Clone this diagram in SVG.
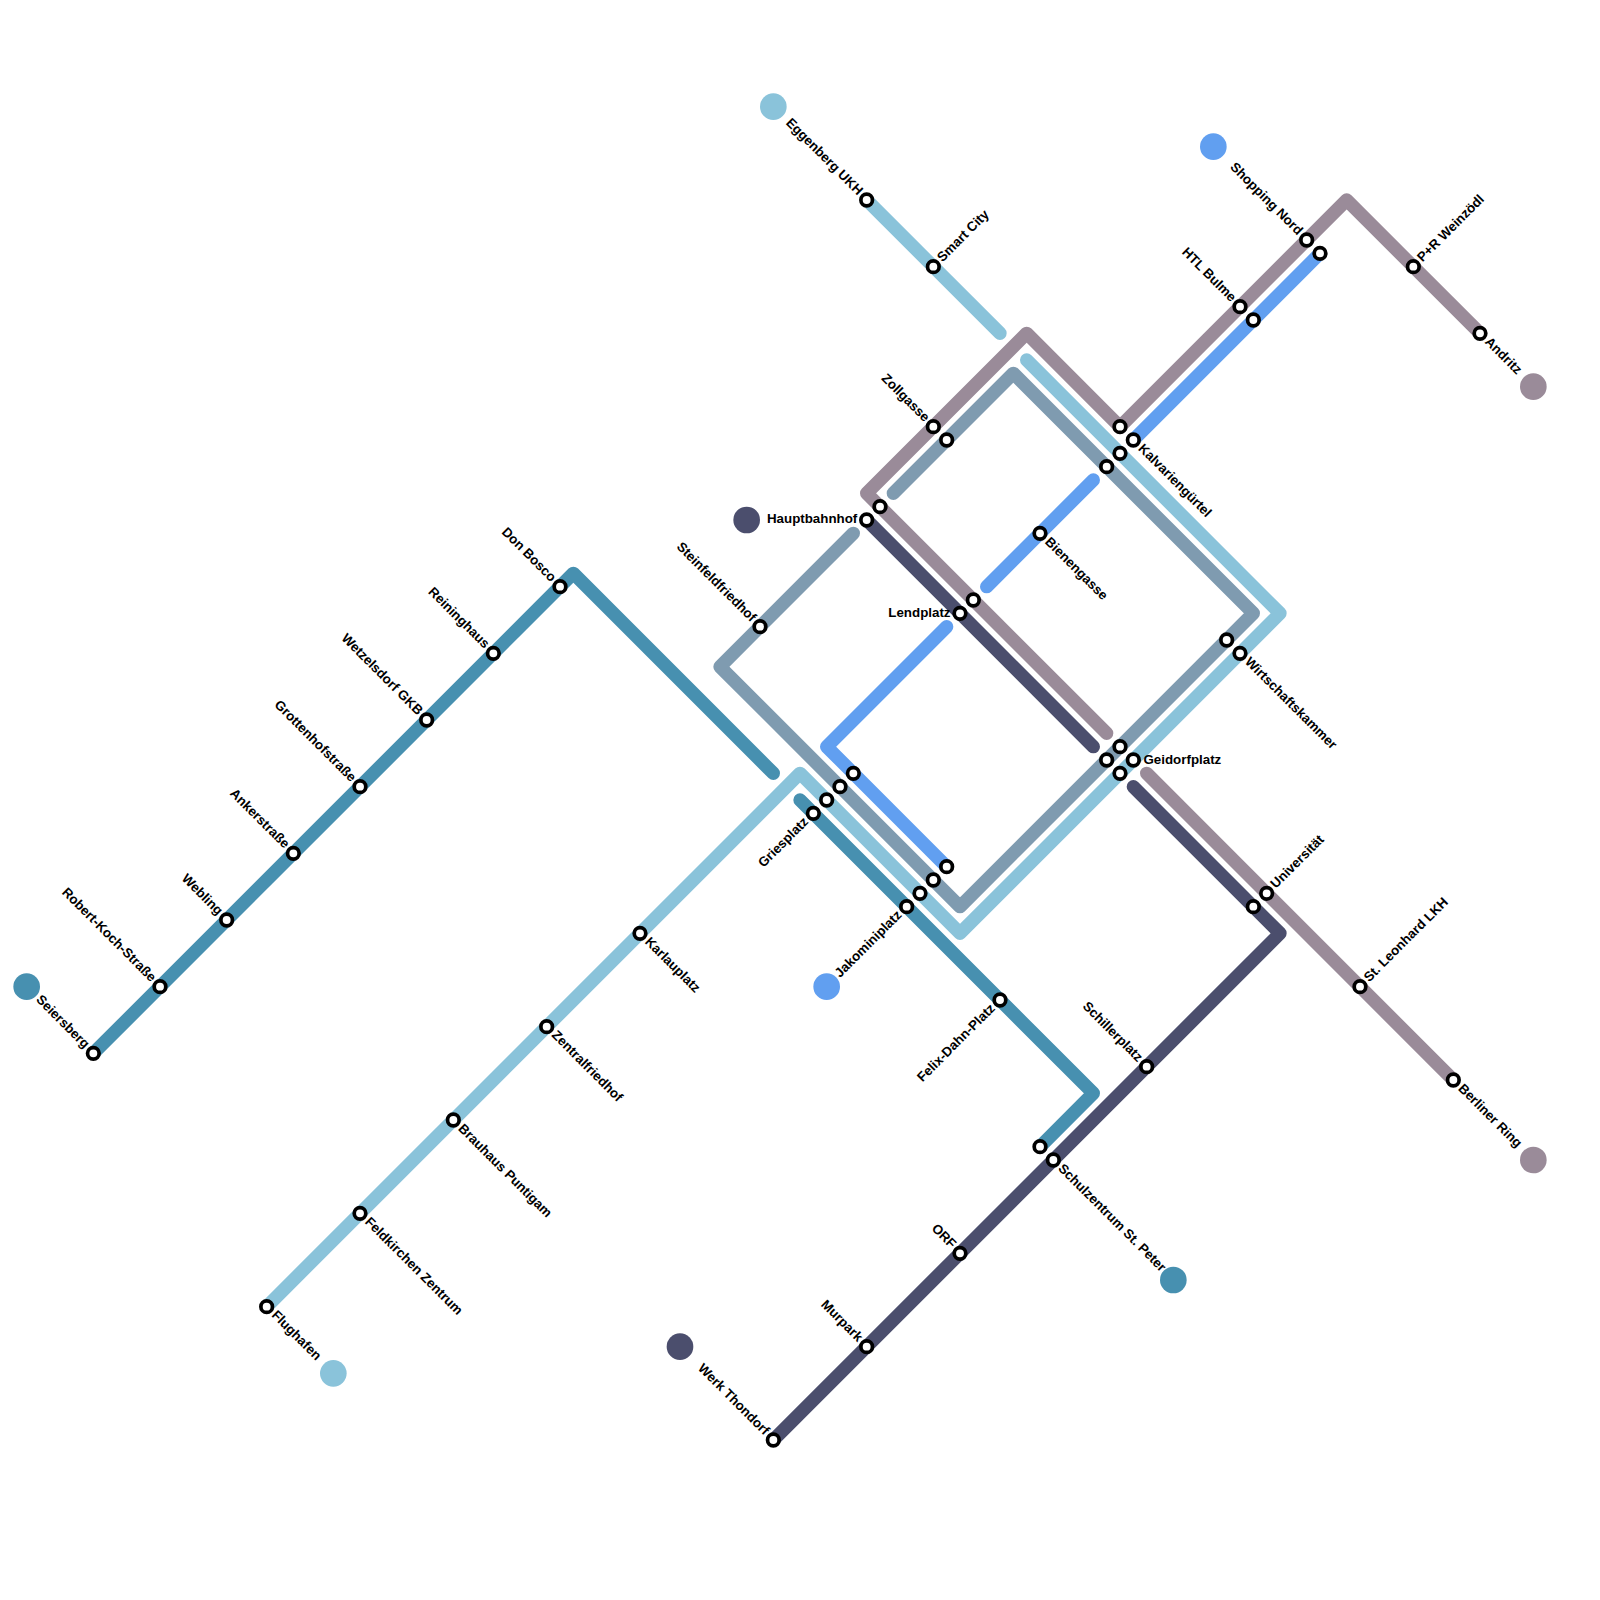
<svg xmlns="http://www.w3.org/2000/svg" width="1600" height="1600" viewBox="0 0 1600 1600">
<style>
.l{fill:none;stroke-width:13.33;stroke-linecap:round;stroke-linejoin:round}
.a{stroke:#4790b0}.b{stroke:#8ac3da}.c{stroke:#7f9bb0}.d{stroke:#619ff0}.e{stroke:#9a8b99}.f{stroke:#4b4e6d}
.s{fill:#fff;stroke:#000;stroke-width:3.7;r:5.8px}
.t{r:13.33px}
text{font-family:"Liberation Sans",Arial,sans-serif;font-size:13.33px;font-weight:bold;fill:#000}
.n{text-anchor:start}.m{text-anchor:end}
</style>
<rect width="1600" height="1600" fill="#fff"/>
<g id="connectors">
<path class="l a" d="M93.33 1053.33L573.33 573.33L773.33 773.33"/>
<path class="l a" d="M800 800L1093.33 1093.33L1040 1146.67"/>
<path class="l b" d="M866.67 200L1000 333.33"/>
<path class="l b" d="M1026.67 360L1280 613.33L960 933.33L800 773.33L266.67 1306.67"/>
<path class="l c" d="M893.33 493.33L1013.33 373.33L1253.33 613.33L960 906.67L720 666.67L853.33 533.33"/>
<path class="l d" d="M1320 253.33L1133.33 440"/>
<path class="l d" d="M1093.33 480L986.67 586.67"/>
<path class="l d" d="M946.67 626.67L826.67 746.67L946.67 866.67"/>
<path class="l e" d="M1480 333.33L1346.67 200L1120 426.67L1026.67 333.33L866.67 493.33L1106.67 733.33"/>
<path class="l e" d="M1146.67 773.33L1453.33 1080"/>
<path class="l f" d="M773.33 1440L1280 933.33L1133.33 786.67"/>
<path class="l f" d="M1093.33 746.67L866.67 520"/>
</g>
<g id="terminals">
<circle id="term-a1" class="t" cx="26.67" cy="986.67" fill="#4790b0"/>
<circle id="term-a2" class="t" cx="1173.33" cy="1280" fill="#4790b0"/>
<circle id="term-b1" class="t" cx="773.33" cy="106.67" fill="#8ac3da"/>
<circle id="term-b2" class="t" cx="333.33" cy="1373.33" fill="#8ac3da"/>
<circle id="term-d1" class="t" cx="1213.33" cy="146.67" fill="#619ff0"/>
<circle id="term-d2" class="t" cx="826.67" cy="986.67" fill="#619ff0"/>
<circle id="term-e1" class="t" cx="1533.33" cy="386.67" fill="#9a8b99"/>
<circle id="term-e2" class="t" cx="1533.33" cy="1160" fill="#9a8b99"/>
<circle id="term-f1" class="t" cx="746.67" cy="520" fill="#4b4e6d"/>
<circle id="term-f2" class="t" cx="680" cy="1346.67" fill="#4b4e6d"/>
</g>
<g id="st-seiersberg"><circle class="s" cx="93.33" cy="1053.33"/><text class="m" transform="translate(93.33 1053.33) rotate(45)" x="-9.5" y="3.5">Seiersberg</text></g>
<g id="st-robertkoch"><circle class="s" cx="160" cy="986.67"/><text class="m" transform="translate(160 986.67) rotate(45)" x="-9.5" y="3.5">Robert-Koch-Straße</text></g>
<g id="st-webling"><circle class="s" cx="226.67" cy="920"/><text class="m" transform="translate(226.67 920) rotate(45)" x="-9.5" y="3.5">Webling</text></g>
<g id="st-anker"><circle class="s" cx="293.33" cy="853.33"/><text class="m" transform="translate(293.33 853.33) rotate(45)" x="-9.5" y="3.5">Ankerstraße</text></g>
<g id="st-grotten"><circle class="s" cx="360" cy="786.67"/><text class="m" transform="translate(360 786.67) rotate(45)" x="-9.5" y="3.5">Grottenhofstraße</text></g>
<g id="st-wetzelsdorf"><circle class="s" cx="426.67" cy="720"/><text class="m" transform="translate(426.67 720) rotate(45)" x="-9.5" y="3.5">Wetzelsdorf GKB</text></g>
<g id="st-reininghaus"><circle class="s" cx="493.33" cy="653.33"/><text class="m" transform="translate(493.33 653.33) rotate(45)" x="-9.5" y="3.5">Reininghaus</text></g>
<g id="st-donbosco"><circle class="s" cx="560" cy="586.67"/><text class="m" transform="translate(560 586.67) rotate(45)" x="-9.5" y="3.5">Don Bosco</text></g>
<g id="st-griesplatz"><circle class="s" cx="813.33" cy="813.33"/><circle class="s" cx="826.67" cy="800"/><circle class="s" cx="840" cy="786.67"/><circle class="s" cx="853.33" cy="773.33"/><text class="m" transform="translate(813.33 813.33) rotate(-45)" x="-9.5" y="3.5">Griesplatz</text></g>
<g id="st-jakomini"><circle class="s" cx="906.67" cy="906.67"/><circle class="s" cx="920" cy="893.33"/><circle class="s" cx="933.33" cy="880"/><circle class="s" cx="946.67" cy="866.67"/><text class="m" transform="translate(906.67 906.67) rotate(-45)" x="-9.5" y="3.5">Jakominiplatz</text></g>
<g id="st-felixdahn"><circle class="s" cx="1000" cy="1000"/><text class="m" transform="translate(1000 1000) rotate(-45)" x="-9.5" y="3.5">Felix-Dahn-Platz</text></g>
<g id="st-schulzentrum"><circle class="s" cx="1040" cy="1146.67"/><circle class="s" cx="1053.33" cy="1160"/><text class="n" transform="translate(1053.33 1160) rotate(45)" x="9.5" y="3.5">Schulzentrum St. Peter</text></g>
<g id="st-eggenberg"><circle class="s" cx="866.67" cy="200"/><text class="m" transform="translate(866.67 200) rotate(45)" x="-9.5" y="3.5">Eggenberg UKH</text></g>
<g id="st-smartcity"><circle class="s" cx="933.33" cy="266.67"/><text class="n" transform="translate(933.33 266.67) rotate(-45)" x="9.5" y="3.5">Smart City</text></g>
<g id="st-kalvarien"><circle class="s" cx="1120" cy="426.67"/><circle class="s" cx="1133.33" cy="440"/><circle class="s" cx="1120" cy="453.33"/><circle class="s" cx="1106.67" cy="466.67"/><text class="n" transform="translate(1133.33 440) rotate(45)" x="9.5" y="3.5">Kalvariengürtel</text></g>
<g id="st-wirtschaft"><circle class="s" cx="1226.67" cy="640"/><circle class="s" cx="1240" cy="653.33"/><text class="n" transform="translate(1240 653.33) rotate(45)" x="9.5" y="3.5">Wirtschaftskammer</text></g>
<g id="st-geidorf"><circle class="s" cx="1106.67" cy="760"/><circle class="s" cx="1120" cy="746.67"/><circle class="s" cx="1120" cy="773.33"/><circle class="s" cx="1133.33" cy="760"/><text class="n" x="1143.5" y="763.5">Geidorfplatz</text></g>
<g id="st-karlau"><circle class="s" cx="640" cy="933.33"/><text class="n" transform="translate(640 933.33) rotate(45)" x="9.5" y="3.5">Karlauplatz</text></g>
<g id="st-zentral"><circle class="s" cx="546.67" cy="1026.67"/><text class="n" transform="translate(546.67 1026.67) rotate(45)" x="9.5" y="3.5">Zentralfriedhof</text></g>
<g id="st-brauhaus"><circle class="s" cx="453.33" cy="1120"/><text class="n" transform="translate(453.33 1120) rotate(45)" x="9.5" y="3.5">Brauhaus Puntigam</text></g>
<g id="st-feldkirchen"><circle class="s" cx="360" cy="1213.33"/><text class="n" transform="translate(360 1213.33) rotate(45)" x="9.5" y="3.5">Feldkirchen Zentrum</text></g>
<g id="st-flughafen"><circle class="s" cx="266.67" cy="1306.67"/><text class="n" transform="translate(266.67 1306.67) rotate(45)" x="9.5" y="3.5">Flughafen</text></g>
<g id="st-zollgasse"><circle class="s" cx="933.33" cy="426.67"/><circle class="s" cx="946.67" cy="440"/><text class="m" transform="translate(933.33 426.67) rotate(45)" x="-9.5" y="3.5">Zollgasse</text></g>
<g id="st-steinfeld"><circle class="s" cx="760" cy="626.67"/><text class="m" transform="translate(760 626.67) rotate(45)" x="-9.5" y="3.5">Steinfeldfriedhof</text></g>
<g id="st-shopping"><circle class="s" cx="1306.67" cy="240"/><circle class="s" cx="1320" cy="253.33"/><text class="m" transform="translate(1306.67 240) rotate(45)" x="-9.5" y="3.5">Shopping Nord</text></g>
<g id="st-htl"><circle class="s" cx="1240" cy="306.67"/><circle class="s" cx="1253.33" cy="320"/><text class="m" transform="translate(1240 306.67) rotate(45)" x="-9.5" y="3.5">HTL Bulme</text></g>
<g id="st-bienengasse"><circle class="s" cx="1040" cy="533.33"/><text class="n" transform="translate(1040 533.33) rotate(45)" x="9.5" y="3.5">Bienengasse</text></g>
<g id="st-andritz"><circle class="s" cx="1480" cy="333.33"/><text class="n" transform="translate(1480 333.33) rotate(45)" x="9.5" y="3.5">Andritz</text></g>
<g id="st-prweinzoedl"><circle class="s" cx="1413.33" cy="266.67"/><text class="n" transform="translate(1413.33 266.67) rotate(-45)" x="9.5" y="3.5">P+R Weinzödl</text></g>
<g id="st-hauptbahnhof"><circle class="s" cx="866.67" cy="520"/><circle class="s" cx="880" cy="506.67"/><text class="m" x="857.3" y="523">Hauptbahnhof</text></g>
<g id="st-lendplatz"><circle class="s" cx="960" cy="613.33"/><circle class="s" cx="973.33" cy="600"/><text class="m" x="950.5" y="616.7">Lendplatz</text></g>
<g id="st-universitaet"><circle class="s" cx="1253.33" cy="906.67"/><circle class="s" cx="1266.67" cy="893.33"/><text class="n" transform="translate(1266.67 893.33) rotate(-45)" x="9.5" y="3.5">Universität</text></g>
<g id="st-leonhard"><circle class="s" cx="1360" cy="986.67"/><text class="n" transform="translate(1360 986.67) rotate(-45)" x="9.5" y="3.5">St. Leonhard LKH</text></g>
<g id="st-berliner"><circle class="s" cx="1453.33" cy="1080"/><text class="n" transform="translate(1453.33 1080) rotate(45)" x="9.5" y="3.5">Berliner Ring</text></g>
<g id="st-werk"><circle class="s" cx="773.33" cy="1440"/><text class="m" transform="translate(773.33 1440) rotate(45)" x="-9.5" y="3.5">Werk Thondorf</text></g>
<g id="st-murpark"><circle class="s" cx="866.67" cy="1346.67"/><text class="m" transform="translate(866.67 1346.67) rotate(45)" x="-9.5" y="3.5">Murpark</text></g>
<g id="st-orf"><circle class="s" cx="960" cy="1253.33"/><text class="m" transform="translate(960 1253.33) rotate(45)" x="-9.5" y="3.5">ORF</text></g>
<g id="st-schillerplatz"><circle class="s" cx="1146.67" cy="1066.67"/><text class="m" transform="translate(1146.67 1066.67) rotate(45)" x="-9.5" y="3.5">Schillerplatz</text></g>
</svg>
